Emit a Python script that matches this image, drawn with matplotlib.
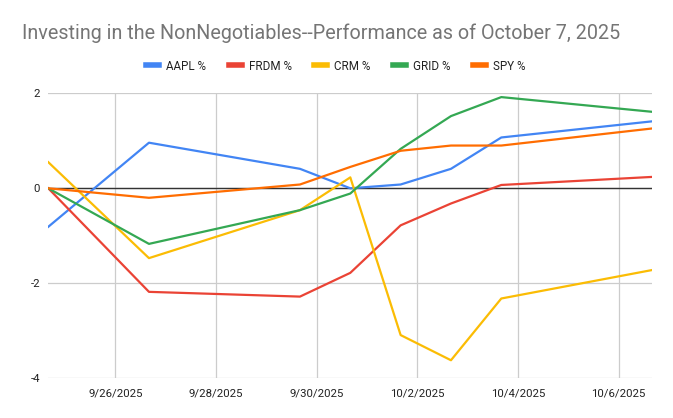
import numpy as np
import pandas as pd
import matplotlib
matplotlib.use("Agg")
import matplotlib.pyplot as plt

# closing times of each sample (4 pm)
dates = pd.to_datetime(["2025-09-24 16:00", "2025-09-26 16:00", "2025-09-29 16:00",
                        "2025-09-30 16:00", "2025-10-01 16:00", "2025-10-02 16:00",
                        "2025-10-03 16:00", "2025-10-06 16:00"])

aapl = [-0.81, 0.96, 0.41, 0.00, 0.08, 0.41, 1.07, 1.41]
frdm = [0.00, -2.18, -2.28, -1.78, -0.78, -0.32, 0.07, 0.24]
crm = [0.55, -1.47, -0.46, 0.23, -3.09, -3.62, -2.32, -1.72]
grid = [0.00, -1.17, -0.46, -0.11, 0.83, 1.52, 1.92, 1.61]
spy = [0.00, -0.20, 0.08, 0.45, 0.79, 0.90, 0.90, 1.26]

series = {"AAPL %": aapl, "FRDM %": frdm, "CRM %": crm, "GRID %": grid, "SPY %": spy}
colors = ["#4285F4", "#EA4335", "#FBBC04", "#34A853", "#FF6D01"]

tick_dates = pd.to_datetime(["2025-09-26", "2025-09-28", "2025-09-30",
                             "2025-10-02", "2025-10-04", "2025-10-06"])
tick_labels = ["9/26/2025", "9/28/2025", "9/30/2025", "10/2/2025", "10/4/2025", "10/6/2025"]
y_ticks = [-4, -2, 0, 2]

plt.rcParams['font.family'] = ['Roboto', 'DejaVu Sans']

W, H = 673, 418
fig = plt.figure(figsize=(W / 100, H / 100), dpi=100)
ax = fig.add_axes([48.3 / W, (H - 378.3) / H, 604 / W, 285 / H])

for (name, vals), c in zip(series.items(), colors):
    ax.plot(dates, vals, color=c, lw=1.6, label=name, zorder=3)

ax.axhline(0, color='#333333', lw=1.0, zorder=2)

ax.set_xlim(dates[0], dates[-1])
ax.set_ylim(-4, 2)
ax.set_xticks(tick_dates)
ax.set_xticklabels(tick_labels)
ax.set_yticks(y_ticks)
ax.set_yticklabels([str(v) for v in y_ticks])
ax.grid(True, color='#cccccc', lw=0.9, zorder=1)
ax.tick_params(axis='both', length=0, labelsize=8.2, colors='#222222')
ax.tick_params(axis='x', pad=7)
ax.tick_params(axis='y', pad=6)
for s in ax.spines.values():
    s.set_visible(False)

fig.text(22 / W, 1 - 33 / H, "Investing in the NonNegotiables--Performance as of October 7, 2025",
         fontsize=14.2, color='#757575', va='center', ha='left')

fig.legend(loc='center', bbox_to_anchor=(336 / W, 1 - 66 / H), ncol=5, frameon=False,
           fontsize=8.4, handlelength=1.1, handletextpad=0.6, columnspacing=1.95,
           labelcolor='#222222')
for h in fig.legends[0].legend_handles:
    h.set_linewidth(4)

fig.savefig("out.png", dpi=100)
